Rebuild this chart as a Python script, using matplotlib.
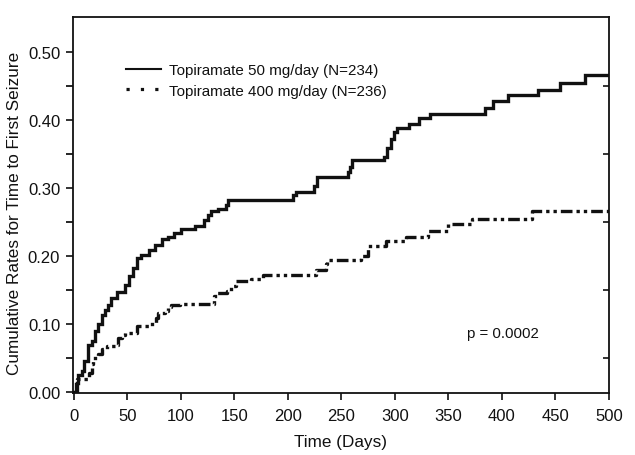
import matplotlib
matplotlib.use("Agg")
import matplotlib.pyplot as plt
from matplotlib.lines import Line2D
from matplotlib.ticker import FixedLocator

plt.rcParams['font.family'] = ['Liberation Sans', 'DejaVu Sans']

# Topiramate 50 mg/day (N=234): step times (days) and cumulative rates
t50 = [0, 2.6, 4.3, 7.4, 10, 13, 16.8, 19.6, 23, 26, 29, 32, 35, 40, 48, 52, 55, 59,
       63, 70, 76, 82, 88, 94, 100, 113, 122, 125, 128.5, 135, 142, 144, 148.7,
       204.5, 207.6, 224.7, 227, 256, 258, 260, 290, 293, 296, 299, 302, 313,
       322.5, 333, 384.5, 391.7, 406, 433.6, 454, 478, 500]
v50 = [0, 0.013, 0.025, 0.030, 0.045, 0.069, 0.075, 0.089, 0.099, 0.113, 0.120, 0.128,
       0.138, 0.146, 0.157, 0.170, 0.182, 0.197, 0.201, 0.209, 0.216, 0.225, 0.228,
       0.233, 0.239, 0.244, 0.253, 0.260, 0.265, 0.268, 0.275, 0.282, 0.282,
       0.289, 0.294, 0.302, 0.316, 0.323, 0.331, 0.341, 0.345, 0.358, 0.372,
       0.382, 0.388, 0.394, 0.402, 0.409, 0.417, 0.427, 0.437, 0.443, 0.4545,
       0.466, 0.466]

# Topiramate 400 mg/day (N=236)
t400 = [0, 2, 3, 14, 16.8, 18, 23, 26, 30.7, 39.4, 41.6, 44.7, 47.8, 59, 70, 77, 79,
        85, 88, 91, 99, 131, 134, 143, 147, 152, 166, 176.6, 226, 235.5, 237, 268,
        275, 292, 310, 331, 350, 372, 428, 500]
v400 = [0, 0.016, 0.019, 0.028, 0.040, 0.050, 0.056, 0.062, 0.067, 0.069, 0.079,
        0.083, 0.0865, 0.097, 0.100, 0.109, 0.116, 0.118, 0.124, 0.128, 0.129, 0.140,
        0.145, 0.1485, 0.156, 0.162, 0.166, 0.172, 0.179, 0.187, 0.193, 0.200,
        0.2135, 0.221, 0.228, 0.2365, 0.2463, 0.254, 0.265, 0.265]

labels = ["Topiramate 50 mg/day (N=234)", "Topiramate 400 mg/day (N=236)"]
xticks = [0, 50, 100, 150, 200, 250, 300, 350, 400, 450, 500]
yticks = [0.0, 0.1, 0.2, 0.3, 0.4, 0.5]
yminor = [0.05, 0.15, 0.25, 0.35, 0.45]
p_text = "p = 0.0002"

fig = plt.figure(figsize=(6.35, 4.56), dpi=100)
ax = fig.add_axes([72.7/635, 62/456, (609 - 72.7)/635, (394 - 18)/456])

col = '#111111'
ax.step(t50, v50, where='post', color=col, lw=2.4, solid_joinstyle='miter')
ax.step(t400, v400, where='post', color=col, lw=2.4,
        linestyle=(0, (3.5, 1.2, 1, 1.2, 1, 1.2)))

ax.set_xlim(-1, 500)
ax.set_ylim(-0.002, 0.551)

ax.xaxis.set_major_locator(FixedLocator(xticks))
ax.yaxis.set_major_locator(FixedLocator(yticks))
ax.yaxis.set_minor_locator(FixedLocator(yminor))
ax.set_yticklabels([f"{y:.2f}" for y in yticks])
ax.set_xticklabels([str(x) for x in xticks])

ax.tick_params(axis='both', which='major', direction='out', length=5, width=1.2,
               labelsize=12, colors=col)
ax.tick_params(axis='x', which='major', pad=6)
ax.tick_params(axis='y', which='major', pad=4)
ax.tick_params(axis='y', which='minor', direction='out', length=5, width=1.2,
               left=True, right=False)
for s in ax.spines.values():
    s.set_linewidth(1.3)
    s.set_color(col)

# right-side inward ticks at minor positions
ax2 = ax.twinx()
ax2.set_ylim(ax.get_ylim())
ax2.yaxis.set_major_locator(FixedLocator(yminor))
ax2.yaxis.set_minor_locator(FixedLocator([]))
ax2.tick_params(axis='y', direction='in', length=4, width=1.2, labelright=False,
                colors=col)
for s in ax2.spines.values():
    s.set_visible(False)

ax.set_xlabel("Time (Days)", fontsize=12.3, color=col, labelpad=8)
ax.set_ylabel("Cumulative Rates for Time to First Seizure", fontsize=12.3, color=col)
ax.yaxis.set_label_coords(-0.094, 0.481)

h1 = Line2D([], [], color=col, lw=1.5)
h2 = Line2D([], [], color=col, lw=2.3, linestyle=(0, (1, 3.5)))
ax.legend([h1, h2], labels, loc='upper left', bbox_to_anchor=(0.08, 0.905),
          frameon=False, fontsize=10.9, handlelength=2.3, handletextpad=0.55,
          labelspacing=0.42, borderpad=0.2, labelcolor=col)

ax.text(367, 0.0865, p_text, fontsize=10.8, color=col, ha='left', va='center')

fig.savefig("out.png", dpi=100)
